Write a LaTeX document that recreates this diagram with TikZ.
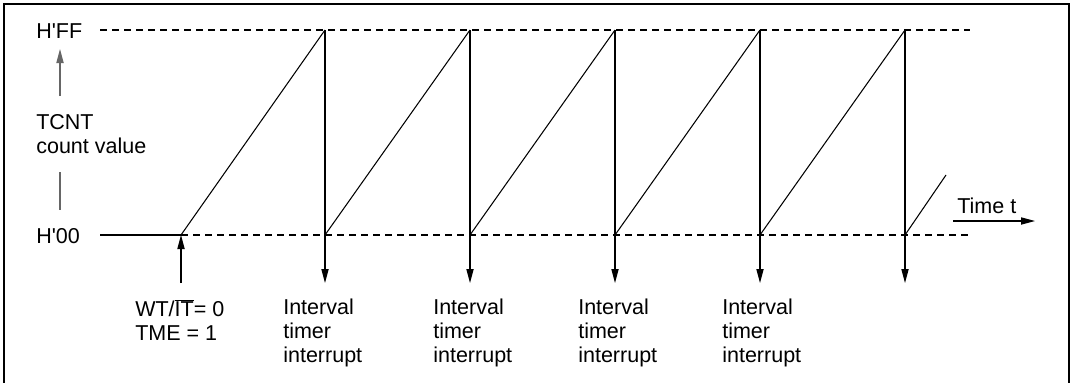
\documentclass[tikz,border=0pt]{standalone}
\usepackage{fontspec}
\setmainfont{Liberation Sans}
\usetikzlibrary{arrows.meta}

\begin{document}
\begin{tikzpicture}[x=0.025cm,y=-0.025cm]
    % Estilos
    \tikzset{
        lbl/.style={font=\fontsize{15.3}{17}\selectfont,inner sep=0pt,align=left},
        axis/.style={line width=0.75pt,-{Triangle[length=3.5mm,width=1.8mm]}},
        level/.style={line width=0.75pt,dash pattern=on 1.75mm off 1.25mm},
        ramp/.style={line width=0.75pt}
    }
    \useasboundingbox (0,0) rectangle (1073,382);

    % Marco
    \draw[line width=0.6mm] (4,395) -- (4,4) -- (1069,4) -- (1069,395);

    % Puntos de la rampa
    \coordinate (start) at (181,235);
    \coordinate (left0) at (100,235);
    \coordinate (leftF) at (100,30);
    \coordinate (endF) at (970,30);
    \coordinate (end0) at (970,235);
    \foreach \x [count=\i] in {325,470,615,760,905}
    {
        \coordinate (top\i) at (\x,30);
        \coordinate (bot\i) at (\x,235);
        \coordinate (irq\i) at (\x,283);
    }
    \coordinate (last) at (946,175);

    % Niveles H'FF y H'00
    \node[lbl,anchor=west] (hff) at (36,31) {H\textquotesingle FF};
    \node[lbl,anchor=west] (h00) at (36,236) {H\textquotesingle 00};
    \draw[level] (leftF) -- (endF);
    \draw[level] (start) -- (end0);
    \draw[ramp] (left0) -- (start);

    % Eje vertical
    \node[lbl,anchor=north west] (tcnt) at (36,114) {TCNT\\count value};
    \coordinate (upA) at (60,96);
    \coordinate (upB) at (60,49);
    \coordinate (dnA) at (60,172);
    \coordinate (dnB) at (60,210);
    \draw[axis,draw=black!60] (upA) -- (upB);
    \draw[line width=0.75pt,black!60] (dnA) -- (dnB);

    % Diente de sierra
    \draw[ramp] (start) -- (top1);
    \foreach \i [evaluate=\i as \j using int(\i+1)] in {1,...,4}
    {
        \draw[ramp] (bot\i) -- (top\j);
    }
    \draw[ramp] (bot5) -- (last);

    % Interrupciones
    \foreach \i in {1,...,5}
    {
        \draw[axis] (top\i) -- (irq\i);
    }

    % Arranque
    \coordinate (go) at (181,283);
    \draw[axis] (go) -- (start);
    \node[lbl,anchor=north west] (cond) at (135,299)
        {WT/$\overline{\mbox{IT}}$= 0\\TME = 1};

    % Etiquetas de interrupcion
    \foreach \x [count=\i] in {283,433,578,722}
    {
        \node[lbl,anchor=north west] (txt\i) at (\x,299) {Interval\\timer\\interrupt};
    }

    % Tiempo
    \coordinate (tA) at (953,221);
    \coordinate (tB) at (1035,221);
    \draw[axis] (tA) -- (tB);
    \node[lbl,anchor=base west] (time) at (957,213) {Time t};
\end{tikzpicture}
\end{document}
